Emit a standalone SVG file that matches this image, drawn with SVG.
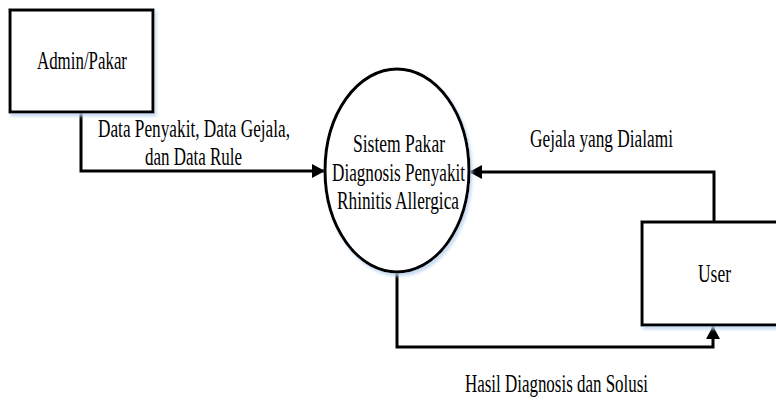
<svg xmlns="http://www.w3.org/2000/svg" width="776" height="400" viewBox="0 0 776 400">
<style>
.shape{fill:#fff;stroke:#000;stroke-width:3;filter:url(#sh)}
.conn{fill:none;stroke:#000;stroke-width:3}
.t{font-family:'Times New Roman','Liberation Serif',serif;font-size:25px;fill:#000}
</style>
<defs>
<filter id="sh" x="-10%" y="-10%" width="130%" height="130%">
<feDropShadow dx="2" dy="3" stdDeviation="1.5" flood-color="#bcd3ee" flood-opacity="0.8"/>
</filter>
<marker id="arr" markerUnits="userSpaceOnUse" markerWidth="14" markerHeight="14" refX="13" refY="7" orient="auto">
<path d="M0,0 L13,7 L0,14 z" fill="#000"/>
</marker>
</defs>
<rect width="776" height="400" fill="#fff"/>
<g id="connectors">
<path class="conn" d="M81,112 V171 H325" marker-end="url(#arr)"/>
<path class="conn" d="M714,222 V172 H469" marker-end="url(#arr)"/>
<path class="conn" d="M397,272 V347 H713 V326" marker-end="url(#arr)"/>
<text class="t" x="98" y="137" textLength="192" lengthAdjust="spacingAndGlyphs">Data Penyakit, Data Gejala,</text>
<text class="t" x="145" y="165" textLength="97" lengthAdjust="spacingAndGlyphs">dan Data Rule</text>
<text class="t" x="530" y="147" textLength="143" lengthAdjust="spacingAndGlyphs">Gejala yang Dialami</text>
<text class="t" x="465" y="392" textLength="183" lengthAdjust="spacingAndGlyphs">Hasil Diagnosis dan Solusi</text>
</g>
<g id="admin">
<rect class="shape" x="10" y="10" width="143" height="102"/>
<text class="t" x="37" y="69" textLength="90" lengthAdjust="spacingAndGlyphs">Admin/Pakar</text>
</g>
<g id="sistem">
<ellipse class="shape" cx="397" cy="170.5" rx="72" ry="101.5"/>
<text class="t" x="353" y="152" textLength="92" lengthAdjust="spacingAndGlyphs">Sistem Pakar</text>
<text class="t" x="332" y="181" textLength="133" lengthAdjust="spacingAndGlyphs">Diagnosis Penyakit</text>
<text class="t" x="337" y="209" textLength="122" lengthAdjust="spacingAndGlyphs">Rhinitis Allergica</text>
</g>
<g id="user">
<rect class="shape" x="642" y="222" width="140" height="103"/>
<text class="t" x="698" y="282" textLength="33" lengthAdjust="spacingAndGlyphs">User</text>
</g>
</svg>
